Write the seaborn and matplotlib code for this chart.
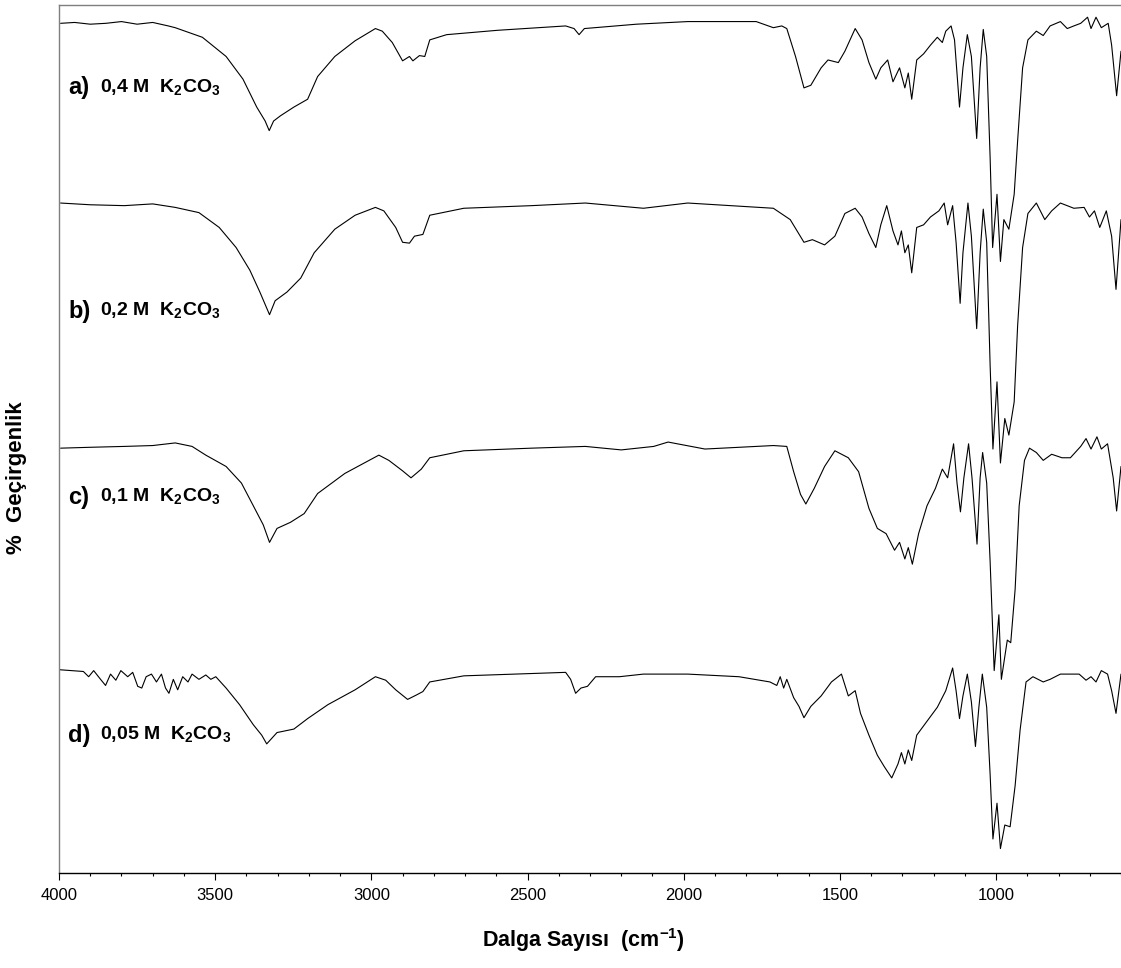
import matplotlib
matplotlib.use("Agg")
import matplotlib.pyplot as plt
from matplotlib.ticker import MultipleLocator, FixedLocator
import seaborn as sns
import pandas as pd

# ---- data ----
wn_a = [3995, 3950, 3900, 3850, 3800, 3750, 3700, 3650, 3628, 3541, 3465, 3411, 3367, 3340, 3327, 3313, 3291, 3248, 3204, 3172,
        3117, 3052, 2987, 2965, 2933, 2900, 2878, 2867, 2846, 2829, 2813, 2759, 2596, 2378, 2351, 2335, 2318, 2151, 1987, 1768,
        1713, 1686, 1670, 1642, 1615, 1593, 1560, 1538, 1505, 1484, 1451, 1429, 1407, 1385, 1369, 1347, 1330, 1309, 1292, 1281,
        1270, 1254, 1232, 1210, 1188, 1172, 1161, 1144, 1133, 1117, 1106, 1092, 1079, 1062, 1051, 1041, 1030, 1019, 1011, 997,
        986, 975, 959, 942, 931, 915, 898, 871, 849, 827, 794, 772, 751, 729, 707, 696, 680, 663, 641, 630, 614, 600]
T_a = [97.4, 97.5, 97.3, 97.4, 97.6, 97.3, 97.5, 97.1, 96.9, 95.8, 93.6, 91.0, 87.8, 86.2, 85.1, 86.2, 86.8, 87.8, 88.7, 91.3,
       93.6, 95.4, 96.8, 96.5, 95.2, 93.1, 93.6, 93.1, 93.7, 93.6, 95.5, 96.1, 96.6, 97.1, 96.8, 96.1, 96.8, 97.3, 97.6, 97.6,
       96.9, 97.1, 96.8, 93.6, 90.0, 90.3, 92.3, 93.2, 92.9, 94.2, 96.8, 95.5, 92.9, 91.0, 92.3, 93.2, 90.7, 92.3, 90.0, 91.7,
       88.7, 93.2, 93.9, 94.9, 95.8, 95.2, 96.5, 97.1, 95.5, 87.8, 92.3, 96.1, 93.6, 84.2, 92.3, 96.7, 93.6, 82.0, 71.7, 77.8,
       70.1, 74.9, 73.8, 77.8, 83.9, 92.3, 95.5, 96.5, 96.0, 97.1, 97.6, 96.8, 97.1, 97.4, 98.1, 96.8, 98.1, 96.9, 97.4, 94.9,
       89.1, 94.2]

wn_b = [3995, 3900, 3791, 3700, 3628, 3552, 3487, 3433, 3389, 3357, 3326, 3308, 3270, 3226, 3183, 3117, 3052, 2987, 2960, 2922,
        2900, 2878, 2862, 2835, 2824, 2813, 2704, 2487, 2315, 2129, 1987, 1713, 1659, 1615, 1588, 1549, 1516, 1484, 1451, 1429,
        1407, 1385, 1369, 1350, 1330, 1314, 1303, 1292, 1281, 1270, 1254, 1232, 1210, 1183, 1166, 1155, 1139, 1128, 1115, 1106,
        1090, 1079, 1062, 1051, 1041, 1030, 1019, 1010, 997, 986, 972, 959, 942, 931, 915, 898, 871, 844, 822, 794,
        751, 718, 701, 685, 668, 647, 630, 616, 600]
T_b = [76.8, 76.6, 76.5, 76.7, 76.3, 75.7, 74.0, 71.7, 69.1, 66.6, 64.0, 65.6, 66.6, 68.2, 71.1, 73.8, 75.4, 76.3, 75.9, 74.0,
       72.3, 72.2, 73.0, 73.2, 74.3, 75.4, 76.2, 76.5, 76.8, 76.2, 76.8, 76.2, 74.9, 72.3, 72.6, 72.0, 73.0, 75.6, 76.2, 75.2,
       73.3, 71.7, 74.3, 76.5, 73.6, 72.0, 73.6, 71.1, 72.0, 68.8, 74.0, 74.3, 75.2, 75.9, 76.8, 74.3, 76.5, 72.3, 65.3, 71.1,
       76.8, 73.0, 62.4, 71.1, 76.1, 72.3, 58.2, 48.6, 56.3, 47.0, 52.1, 50.2, 54.0, 62.7, 71.7, 75.6, 76.8, 74.9, 75.9, 76.8,
       76.2, 76.3, 75.2, 75.9, 74.0, 75.9, 73.0, 66.9, 74.9]

wn_c = [3995, 3900, 3791, 3700, 3628, 3574, 3530, 3465, 3416, 3378, 3346, 3326, 3302, 3259, 3215, 3172, 3085, 2976, 2944, 2900,
        2873, 2840, 2813, 2704, 2487, 2315, 2200, 2096, 2050, 1932, 1713, 1670, 1648, 1626, 1609, 1582, 1549, 1516, 1473, 1440,
        1407, 1380, 1352, 1325, 1309, 1292, 1281, 1268, 1248, 1221, 1194, 1172, 1155, 1136, 1125, 1114, 1103, 1088, 1077, 1061,
        1051, 1043, 1030, 1019, 1006, 991, 983, 964, 953, 939, 926, 909, 893, 871, 849, 822, 789, 762, 729, 712,
        696, 677, 663, 643, 625, 614, 600]
T_c = [48.7, 48.8, 48.9, 49.0, 49.3, 48.9, 47.9, 46.6, 44.7, 42.1, 39.9, 37.9, 39.5, 40.2, 41.2, 43.5, 45.8, 47.9, 47.3, 46.1,
       45.3, 46.3, 47.6, 48.4, 48.7, 48.9, 48.5, 48.9, 49.4, 48.6, 49.0, 48.9, 46.0, 43.4, 42.3, 44.1, 46.6, 48.4, 47.6, 46.0,
       41.8, 39.5, 38.9, 37.0, 37.9, 36.0, 37.3, 35.4, 38.9, 42.1, 44.1, 46.3, 45.3, 49.2, 44.7, 41.4, 45.3, 49.2, 45.3, 37.7,
       45.3, 48.2, 44.7, 35.7, 23.2, 29.6, 22.2, 26.7, 26.4, 32.5, 42.1, 47.3, 48.7, 48.2, 47.3, 48.0, 47.6, 47.6, 48.9, 49.8,
       48.6, 50.0, 48.6, 49.2, 45.3, 41.5, 46.6]

wn_d = [3998, 3922, 3905, 3889, 3867, 3851, 3835, 3818, 3802, 3780, 3764, 3748, 3735, 3721, 3704, 3688, 3672, 3659, 3648, 3634,
        3620, 3604, 3587, 3574, 3552, 3530, 3514, 3498, 3465, 3422, 3378, 3351, 3335, 3302, 3248, 3204, 3139, 3052, 2987, 2954,
        2922, 2884, 2856, 2835, 2813, 2704, 2378, 2362, 2346, 2329, 2308, 2282, 2206, 2129, 1987, 1823, 1724, 1702, 1691, 1680,
        1670, 1648, 1631, 1615, 1593, 1560, 1527, 1495, 1473, 1451, 1434, 1407, 1380, 1358, 1334, 1314, 1303, 1292, 1281, 1270,
        1254, 1221, 1188, 1161, 1139, 1128, 1117, 1106, 1092, 1079, 1066, 1055, 1044, 1030, 1019, 1010, 997, 986, 972, 955,
        939, 923, 904, 882, 849, 827, 794, 762, 734, 712, 696, 680, 663, 643, 630, 616, 600]
T_d = [23.3, 23.1, 22.5, 23.2, 22.2, 21.5, 22.8, 22.1, 23.2, 22.5, 23.0, 21.4, 21.2, 22.5, 22.8, 21.9, 22.8, 21.2, 20.6, 22.2,
       21.0, 22.5, 21.9, 22.8, 22.2, 22.7, 22.2, 22.5, 21.2, 19.3, 17.0, 15.8, 14.8, 16.1, 16.5, 17.7, 19.3, 21.0, 22.5, 22.1,
       21.0, 19.9, 20.4, 20.8, 21.9, 22.6, 23.0, 22.2, 20.6, 21.2, 21.4, 22.5, 22.5, 22.8, 22.8, 22.5, 21.9, 21.5, 22.5, 21.2,
       22.2, 20.1, 19.1, 17.8, 19.1, 20.3, 21.9, 22.8, 20.3, 20.9, 18.3, 15.8, 13.5, 12.2, 10.9, 12.5, 13.8, 12.5, 14.1, 12.9,
       15.8, 17.4, 19.0, 20.9, 23.5, 20.9, 17.7, 20.3, 22.8, 19.6, 14.5, 19.0, 22.8, 19.0, 11.3, 3.9, 8.0, 2.8, 5.5, 5.3,
       10.0, 16.4, 21.9, 22.5, 21.9, 22.2, 22.8, 22.8, 22.8, 22.1, 22.5, 21.9, 23.2, 22.8, 20.9, 18.3, 22.8]

series_letters = ["a)", "b)", "c)", "d)"]
series_conc = ["0,4 M", "0,2 M", "0,1 M", "0,05 M"]
label_T = [90.0, 64.4, 43.1, 15.8]
x_ticks = [4000, 3500, 3000, 2500, 2000, 1500, 1000]

spectra = [(wn_a, T_a), (wn_b, T_b), (wn_c, T_c), (wn_d, T_d)]

# ---- style ----
sns.set_style("white")
plt.rcParams["font.family"] = ["Liberation Sans", "DejaVu Sans"]
plt.rcParams["mathtext.fontset"] = "custom"
plt.rcParams["mathtext.rm"] = "Liberation Sans"
plt.rcParams["mathtext.bf"] = "Liberation Sans:bold"
plt.rcParams["text.color"] = "black"
plt.rcParams["axes.labelcolor"] = "black"
plt.rcParams["xtick.color"] = "black"
plt.rcParams["xtick.labelcolor"] = "black"

fig = plt.figure(figsize=(11.21, 9.68), dpi=100)
ax = fig.add_axes([59 / 1121, (968 - 873) / 968, (1121 - 59) / 1121, (873 - 5) / 968])

for (wn, T) in spectra:
    df = pd.DataFrame({"wn": wn, "T": T})
    sns.lineplot(data=df, x="wn", y="T", color="black", linewidth=0.8,
                 estimator=None, sort=True, ax=ax)

ax.set_xlim(4000, 600)
ax.set_ylim(0, 99.5)

ax.xaxis.set_major_locator(FixedLocator(x_ticks))
ax.xaxis.set_minor_locator(MultipleLocator(100))
ax.set_xticklabels([str(v) for v in x_ticks])
ax.tick_params(axis="x", which="major", direction="out", length=5, width=0.8,
               color="black", labelcolor="black", labelsize=12, pad=6, bottom=True)
ax.tick_params(axis="x", which="minor", direction="out", length=2.5, width=0.8,
               color="black", bottom=True)
ax.set_yticks([])

for side in ["left", "top"]:
    ax.spines[side].set_color("#7f7f7f")
    ax.spines[side].set_linewidth(1.0)
ax.spines["bottom"].set_color("black")
ax.spines["bottom"].set_linewidth(1.0)
ax.spines["right"].set_visible(False)

ax.set_xlabel(r"Dalga Sayısı  (cm$^{\mathbf{-1}}$)", fontsize=15.5, fontweight="bold", color="black")
ax.xaxis.set_label_coords(0.494, -0.061)
ax.set_ylabel("%  Geçirgenlik", fontsize=16, fontweight="bold", color="black")
ax.yaxis.set_label_coords(-0.030, 0.455)

for letter, conc, ty in zip(series_letters, series_conc, label_T):
    ax.text(3970, ty, letter, fontsize=17, fontweight="bold", ha="left", va="center", color="black")
    ax.text(3868, ty, conc + r"  K$_\mathbf{2}$CO$_\mathbf{3}$", fontsize=14,
            fontweight="bold", ha="left", va="center", color="black")

fig.savefig("out.png", dpi=100)
